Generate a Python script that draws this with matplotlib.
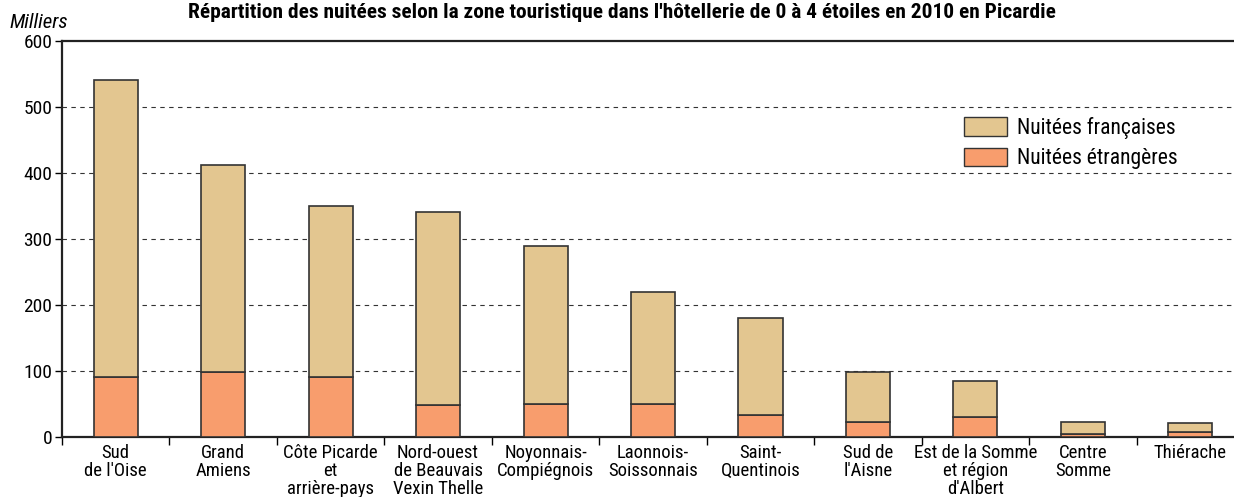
import numpy as np
import matplotlib.pyplot as plt
from matplotlib.patches import Patch

plt.rcParams['font.family'] = ['Roboto Condensed', 'Liberation Sans', 'DejaVu Sans']

# Data (milliers de nuitées)
zones = ["Sud\nde l'Oise", "Grand\nAmiens", "Côte Picarde\net\narrière-pays",
         "Nord-ouest\nde Beauvais\nVexin Thelle", "Noyonnais-\nCompiégnois",
         "Laonnois-\nSoissonnais", "Saint-\nQuentinois", "Sud de\nl'Aisne",
         "Est de la Somme\net région\nd'Albert", "Centre\nSomme", "Thiérache"]
etrangeres = [91, 99, 91, 48, 50, 50, 34, 23, 31, 4, 7]
francaises = [450, 313, 259, 293, 240, 169, 146, 76, 54, 19, 14]

col_fr = '#E3C690'
col_et = '#F89D6D'
edge = '#333333'

fig = plt.figure(figsize=(12.34, 4.97), dpi=100)
ax = fig.add_axes([0.0502, 0.1207, 0.958, 0.7968])

x = np.arange(len(zones)) + 0.5
ax.bar(x, etrangeres, width=0.41, color=col_et, edgecolor=edge, linewidth=1.2, zorder=3)
ax.bar(x, francaises, width=0.41, bottom=etrangeres, color=col_fr, edgecolor=edge,
       linewidth=1.2, zorder=3)

ax.set_xlim(0, 11)
ax.set_ylim(0, 600)
ax.set_yticks([0, 100, 200, 300, 400, 500, 600])
ax.tick_params(axis='y', labelsize=14, length=5, width=1, pad=2)
ax.set_xticks(x)
ax.set_xticklabels(zones, fontsize=13.5, linespacing=1.0)
ax.tick_params(axis='x', length=0, pad=5)
ax.set_xticks(np.arange(0, 11), minor=True)
ax.tick_params(axis='x', which='minor', length=6, width=1)

for v in [100, 200, 300, 400, 500]:
    ax.axhline(v, color='#333333', linestyle=(0, (4, 4)), linewidth=0.8, zorder=1)

ax.spines['right'].set_visible(False)
for s in ['left', 'bottom', 'top']:
    ax.spines[s].set_linewidth(1.6)
    ax.spines[s].set_color('#222222')

handles = [Patch(facecolor=col_fr, edgecolor=edge, label='Nuitées françaises'),
           Patch(facecolor=col_et, edgecolor=edge, label='Nuitées étrangères')]
ax.legend(handles=handles, loc='upper left', bbox_to_anchor=(0.756, 0.83), frameon=False,
          fontsize=15.5, handlelength=2.0, handleheight=0.95, handletextpad=0.45,
          labelspacing=0.4, borderaxespad=0)

fig.text(0.008, 0.955, 'Milliers', fontsize=15, style='italic', va='center', ha='left')
fig.text(0.504, 0.964, "Répartition des nuitées selon la zone touristique dans l'hôtellerie de 0 à 4 étoiles en 2010 en Picardie",
         fontsize=15.4, fontweight='bold', ha='center', va='baseline')

fig.savefig('out.png', dpi=100)
